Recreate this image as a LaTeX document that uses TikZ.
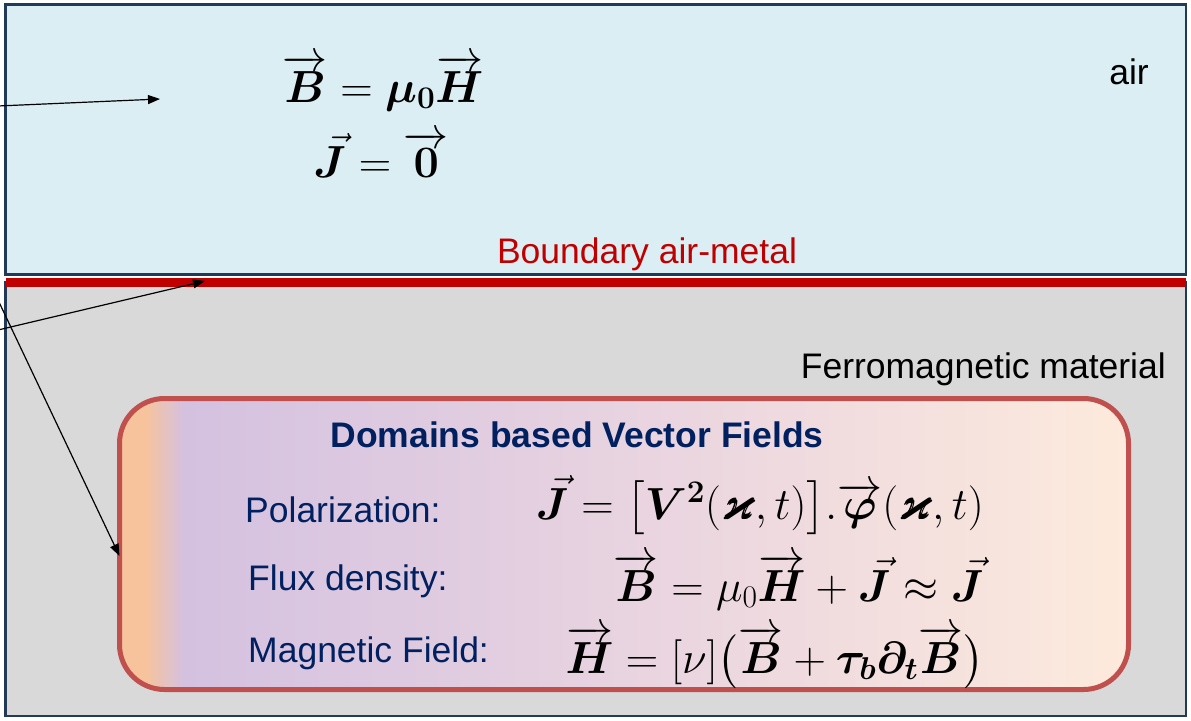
\RequirePackage{fix-cm}
\documentclass[tikz,border=0pt]{standalone}
\usepackage{amsmath,amssymb}
\usepackage{bm}
\usepackage[no-math]{fontspec}
\setmainfont{Liberation Sans}
\usetikzlibrary{positioning,arrows.meta}

\definecolor{airblue}{HTML}{DAEEF3}
\definecolor{framenavy}{HTML}{203A58}
\definecolor{metalgray}{HTML}{D9D9D9}
\definecolor{boundred}{HTML}{C00000}
\definecolor{domainred}{HTML}{C0504D}
\definecolor{textnavy}{HTML}{002060}
\definecolor{gradorange}{HTML}{F6C39C}
\definecolor{gradlav}{HTML}{D4C1E0}
\definecolor{gradmid}{HTML}{E8D3E0}
\definecolor{gradpeach}{HTML}{FDEADC}

\pgfdeclarehorizontalshading{domainshade}{100bp}{color(0bp)=(gradorange); color(25bp)=(gradorange); color(26.3bp)=(gradorange); color(28.2bp)=(gradlav); color(50bp)=(gradmid); color(75bp)=(gradpeach); color(100bp)=(gradpeach)}

\begin{document}
\begin{tikzpicture}[
  x=1pt, y=-1pt,
  font=\fontsize{35.5}{40}\selectfont,
  region/.style={draw=framenavy, line width=2.5pt, anchor=north west, inner sep=0pt, outer sep=0pt},
  label/.style={inner sep=0pt, anchor=base},
  navy/.style={label, text=textnavy, anchor=base west},
  eqn/.style={inner sep=0pt, anchor=base east, font=\fontsize{45}{50}\selectfont},
  pointer/.style={-{Triangle[length=12pt,width=9pt]}, line width=1.2pt},
]
  \useasboundingbox (0,0) rectangle (1191,720);

  % air and metal
  \node[region, fill=airblue, minimum width=1180.5pt, minimum height=270pt] (air) at (5.5,4.5) {};
  \node[region, fill=metalgray, minimum width=1180.5pt, minimum height=434pt] (metal) at (5.5,282) {};
  \draw[boundred, line width=9pt] (metal.north west) -- (metal.north east);

  % domains box
  \node[draw=domainred, line width=5pt, rounded corners=45pt, shading=domainshade,
        minimum width=1009pt, minimum height=291pt, anchor=north west, outer sep=0pt] (domains) at (119.5,398.5) {};

  \node[label] (airlabel) at (1129,84) {air};
  \node[label, text=boundred] (boundary) at (647,263) {Boundary air-metal};
  \node[label, anchor=base east] (ferro) at (1166,378) {Ferromagnetic material};

  \node[label, text=textnavy, font=\fontsize{35.5}{40}\selectfont\bfseries] (title) at (577,447) {Domains based Vector Fields};
  \node[navy] (polar) at (245,522) {Polarization:};
  \node[navy] (flux) at (248,590) {Flux density:};
  \node[navy] (magfield) at (248,662) {Magnetic Field:};

  \node[eqn] (polareq) at (984,519) {$\vec{\bm J}=\bigl[\bm{V^2}(\bm\varkappa,t)\bigr].\overrightarrow{\bm\varphi}(\bm\varkappa,t)$};
  \node[eqn] (fluxeq) at (984,601) {$\overrightarrow{\bm B}=\mu_0\overrightarrow{\bm H}+\vec{\bm J}\approx\vec{\bm J}$};
  \node[eqn] (fieldeq) at (984,673) {$\overrightarrow{\bm H}=[\nu]\bigl(\overrightarrow{\bm B}+\bm\tau_{\bm b}\bm\partial_{\bm t}\overrightarrow{\bm B}\bigr)$};

  \node[eqn, anchor=base] (airB) at (383,102) {$\overrightarrow{\bm B}=\bm\mu_{\bm 0}\overrightarrow{\bm H}$};
  \node[eqn, anchor=base] (airJ) at (381,177) {$\vec{\bm J}=\overrightarrow{\bm 0}$};

  % pointers from the left
  \coordinate (src1) at (-2,106);
  \coordinate (tip1) at (160,99);
  \coordinate (src2) at (-2,330);
  \coordinate (tip2) at (205,281);
  \coordinate (src3) at (-2,300);
  \coordinate (tip3) at ([yshift=-12pt]domains.west);

  \draw[pointer] (src1) -- (tip1);
  \draw[pointer] (src2) -- (tip2);
  \draw[pointer] (src3) -- (tip3);
\end{tikzpicture}
\end{document}
